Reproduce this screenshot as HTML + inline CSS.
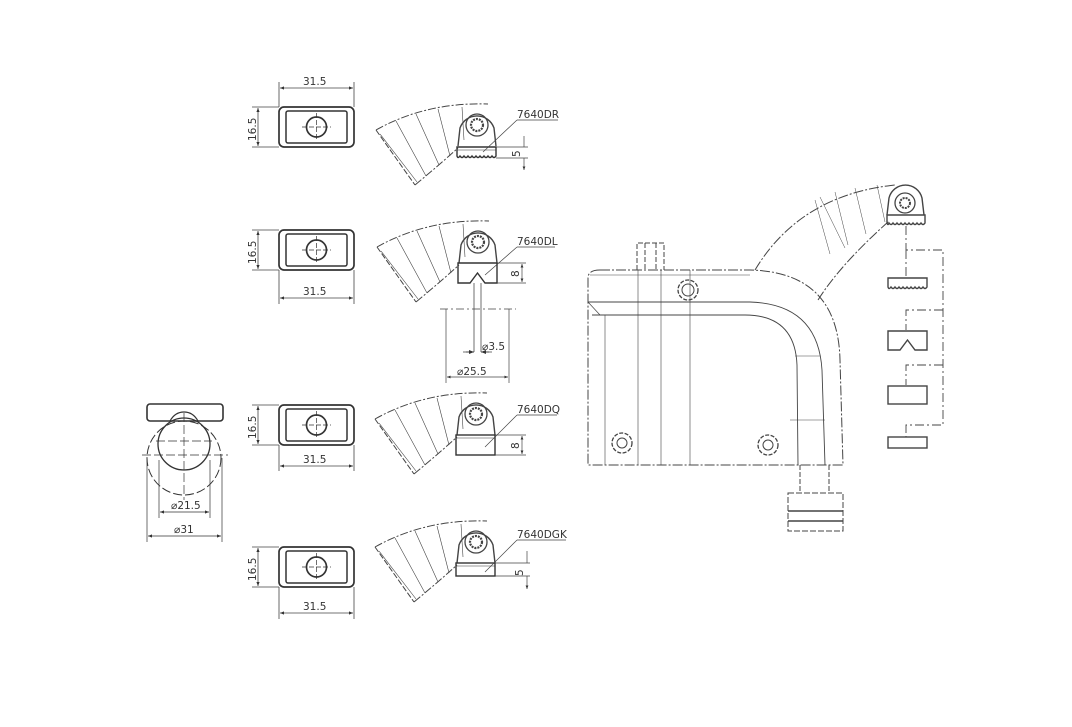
<!DOCTYPE html>
<html><head><meta charset="utf-8"><style>
html,body{margin:0;padding:0;background:#fff;}
svg{display:block;}
text{font-family:"DejaVu Sans","Liberation Sans",sans-serif;font-size:10.5px;fill:#333;}
</style></head><body>
<svg width="1072" height="727" viewBox="0 0 1072 727" xmlns="http://www.w3.org/2000/svg">
<defs>
<marker id="ar" viewBox="0 0 10 10" refX="10" refY="5" markerWidth="7" markerHeight="5" orient="auto-start-reverse"><path d="M0,1 L10,5 L0,9 z" fill="#333"/></marker>
<g id="plan" fill="none" stroke="#333">
  <rect x="279" y="0" width="75" height="40" rx="5" stroke-width="1.7"/>
  <rect x="286" y="4" width="61" height="32" rx="2" stroke-width="1.5"/>
  <circle cx="316.5" cy="20" r="10" stroke-width="1.7"/>
  <path d="M302,20 H331 M316.5,6 V34" stroke-width="0.7" stroke-dasharray="5,2"/>
</g>
<g id="fan" fill="none" stroke="#444" stroke-width="1">
  <path d="M0,0 Q50,-28 112,-26" stroke-dasharray="8,2,2,2"/>
  <path d="M0,0 L39,55" stroke-dasharray="6,2"/>
  <path d="M4,4 L41,52" stroke-width="0.6"/>
  <path d="M39,55 Q62,36 82,18" stroke-dasharray="8,2,2,2"/>
  <path d="M20,-9 L50,46 M40,-16 L63,35 M62,-21 L74,26 M86,-23 L88,10" stroke-width="0.6"/>
  <path d="M82,16 L84,-2 A18,18 0 0 1 118,-2 L120,16" stroke-width="1.4"/>
  <circle cx="101" cy="-5" r="11" stroke-width="1.3"/>
  <circle cx="101" cy="-5" r="6" stroke-width="2.2" stroke-dasharray="2,1"/>
</g>
</defs>

<use href="#plan" transform="translate(0,107)"/>
<use href="#plan" transform="translate(0,230)"/>
<use href="#plan" transform="translate(0,405)"/>
<use href="#plan" transform="translate(0,547)"/>

<g stroke="#444" stroke-width="0.8" fill="none">
  <path d="M279,107 V82 M354,107 V82"/>
  <path d="M280,88 H353" marker-start="url(#ar)" marker-end="url(#ar)"/>
  <path d="M279,107 H252 M279,147 H252"/>
  <path d="M258,108 V146" marker-start="url(#ar)" marker-end="url(#ar)"/>
  <path d="M279,270 V304 M354,270 V304"/>
  <path d="M280,298 H353" marker-start="url(#ar)" marker-end="url(#ar)"/>
  <path d="M279,230 H252 M279,270 H252"/>
  <path d="M258,231 V269" marker-start="url(#ar)" marker-end="url(#ar)"/>
  <path d="M279,445 V471 M354,445 V471"/>
  <path d="M280,466 H353" marker-start="url(#ar)" marker-end="url(#ar)"/>
  <path d="M279,405 H252 M279,445 H252"/>
  <path d="M258,406 V444" marker-start="url(#ar)" marker-end="url(#ar)"/>
  <path d="M279,587 V619 M354,587 V619"/>
  <path d="M280,613 H353" marker-start="url(#ar)" marker-end="url(#ar)"/>
  <path d="M279,547 H252 M279,587 H252"/>
  <path d="M258,548 V586" marker-start="url(#ar)" marker-end="url(#ar)"/>
</g>
<text x="303" y="85">31.5</text>
<text x="303" y="295">31.5</text>
<text x="303" y="463">31.5</text>
<text x="303" y="610">31.5</text>
<text transform="translate(256,141) rotate(-90)">16.5</text>
<text transform="translate(256,264) rotate(-90)">16.5</text>
<text transform="translate(256,439) rotate(-90)">16.5</text>
<text transform="translate(256,581) rotate(-90)">16.5</text>

<use href="#fan" transform="translate(376,130)"/>
<use href="#fan" transform="translate(377,247)"/>
<use href="#fan" transform="translate(375,419)"/>
<use href="#fan" transform="translate(375,547)"/>

<g fill="none" stroke="#333" stroke-width="1.4">
  <path d="M457,147 H496 V156 Q494,159 492,156 Q490,159 488,156 Q486,159 484,156 Q482,159 480,156 Q478,159 476,156 Q474,159 472,156 Q470,159 468,156 Q466,159 464,156 Q462,159 460,156 Q458,159 457,156 Z"/>
  <path d="M457,150 H496" stroke-width="0.6"/>
  <path d="M458,263 H497 V283 L485,283 L477.5,273 L470,283 L458,283 Z"/>
  <path d="M474,283 V352 M481,283 V352" stroke-width="0.7"/>
  <rect x="456" y="435" width="39" height="20"/>
  <path d="M456,438 H495" stroke-width="0.6"/>
  <rect x="456" y="563" width="39" height="13"/>
  <path d="M456,566 H495" stroke-width="0.6"/>
</g>

<text x="517" y="118">7640DR</text>
<text x="517" y="245">7640DL</text>
<text x="517" y="413">7640DQ</text>
<text x="517" y="538">7640DGK</text>
<g stroke="#444" stroke-width="0.7" fill="none">
  <path d="M517,120 H558 M517,120 L483,152"/>
  <path d="M517,247 H555 M517,247 L485,275"/>
  <path d="M517,415 H557 M517,415 L485,447"/>
  <path d="M517,540 H566 M517,540 L485,572"/>
  <path d="M496,147 H528 M496,158 H528"/>
  <path d="M524,136 V147 M524,158 V170" marker-end="url(#ar)"/>
  <path d="M497,263 H526 M497,283 H526"/>
  <path d="M522,264 V282" marker-start="url(#ar)" marker-end="url(#ar)"/>
  <path d="M495,435 H526 M495,455 H526"/>
  <path d="M522,436 V454" marker-start="url(#ar)" marker-end="url(#ar)"/>
  <path d="M495,563 H530 M495,576 H530"/>
  <path d="M527,551 V563 M527,576 V589" marker-end="url(#ar)"/>
  <path d="M440,309 H516" stroke-dasharray="8,3,2,3"/>
  <path d="M446,309 V383 M509,309 V383"/>
  <path d="M463,352 H474 M481,352 H492" />
  <path d="M447,377 H508" marker-start="url(#ar)" marker-end="url(#ar)"/>
</g>
<path d="M466,352 H474" stroke="#444" marker-end="url(#ar)"/>
<path d="M489,352 H481" stroke="#444" marker-end="url(#ar)"/>
<text transform="translate(520,157) rotate(-90)">5</text>
<text transform="translate(519,277) rotate(-90)">8</text>
<text transform="translate(519,449) rotate(-90)">8</text>
<text transform="translate(523,576) rotate(-90)">5</text>
<text x="482" y="350">⌀3.5</text>
<text x="457" y="375">⌀25.5</text>

<g fill="none" stroke="#333">
  <rect x="147" y="404" width="76" height="17" rx="3" stroke-width="1.6"/>
  <path d="M170,421 Q175,412 184,412 Q193,412 198,421" stroke-width="1.2"/>
  <circle cx="184" cy="444" r="26" stroke-width="1.3"/>
  <circle cx="184" cy="458" r="37" stroke-width="1" stroke-dasharray="9,3"/>
  <path d="M142,455 H228 M156,441 H212" stroke-width="0.7" stroke-dasharray="9,3"/>
  <path d="M184,413 V500" stroke-width="0.7" stroke-dasharray="9,3"/>
  <path d="M159,460 V518 M210,460 V518 M147,458 V542 M222,458 V542" stroke-width="0.7"/>
  <path d="M160,512 H209" stroke-width="0.8" marker-start="url(#ar)" marker-end="url(#ar)"/>
  <path d="M148,536 H221" stroke-width="0.8" marker-start="url(#ar)" marker-end="url(#ar)"/>
</g>
<text x="171" y="509">⌀21.5</text>
<text x="174" y="533">⌀31</text>

<g fill="none" stroke="#444" stroke-width="1">
  <path d="M600,270 H750 Q838,272 840,360 L843,465 H588 V278 Q588,270 600,270" stroke-dasharray="10,2,2,2"/>
  <path d="M590,275 H750" stroke-width="0.6"/>
  <path d="M588,302 H750 Q818,304 822,370 L825,465" stroke-width="0.9"/>
  <path d="M592,315 H745 Q795,315 797,365 L798,465" stroke-width="0.9"/>
  <path d="M588,302 L600,315" stroke-width="0.7"/>
  <path d="M605,315 V465 M638,270 V465 M661,270 V465 M690,270 V465" stroke-width="0.6"/>
  <path d="M790,420 H825 M795,356 H820" stroke-width="0.5"/>
  <path d="M637,270 V243 H664 V270 M645,243 V270 M656,243 V270" stroke-dasharray="5,2"/>
  <circle cx="688" cy="290" r="10" stroke-dasharray="4,1.5" stroke-width="1.3"/>
  <circle cx="688" cy="290" r="6"/>
  <circle cx="622" cy="443" r="10" stroke-dasharray="4,1.5" stroke-width="1.3"/>
  <circle cx="622" cy="443" r="5"/>
  <circle cx="768" cy="445" r="10" stroke-dasharray="4,1.5" stroke-width="1.3"/>
  <circle cx="768" cy="445" r="5"/>
  <path d="M800,465 V493 M829,465 V493" stroke-dasharray="5,2"/>
  <rect x="788" y="493" width="55" height="38" stroke-dasharray="6,2"/>
  <path d="M788,511 H843 M788,521 H843" stroke-width="1.4"/>
  <path d="M755,270 Q800,195 895,185" stroke-dasharray="10,2,2,2"/>
  <path d="M818,300 Q840,265 888,222" stroke-dasharray="10,2,2,2"/>
  <path d="M815,200 L830,254 M835,192 L848,245 M855,188 L866,234 M877,185 L885,222 M820,197 L845,248" stroke-width="0.5"/>
  <path d="M887,215 L889,198 A17,17 0 0 1 922,198 L924,215" stroke-width="1.4"/>
  <circle cx="905" cy="203" r="10" stroke-width="1.3"/>
  <circle cx="905" cy="203" r="5" stroke-width="2" stroke-dasharray="2,1"/>
  <path d="M887,215 H925 V223 Q923,226 921,223 Q919,226 917,223 Q915,226 913,223 Q911,226 909,223 Q907,226 905,223 Q903,226 901,223 Q899,226 897,223 Q895,226 893,223 Q891,226 889,223 Q888,226 887,223 Z" stroke-width="1.4"/>
  <path d="M906,226 V250 H943 V425 H906 V437 M943,310 H906 V330 M943,365 H906 V385 M906,250 V278" stroke-dasharray="9,3,2,3" stroke-width="0.9"/>
  <path d="M888,278 H927 V287 Q925,290 923,287 Q921,290 919,287 Q917,290 915,287 Q913,290 911,287 Q909,290 907,287 Q905,290 903,287 Q901,290 899,287 Q897,290 895,287 Q893,290 891,287 Q889,290 888,287 Z" stroke-width="1.4"/>
  <path d="M888,331 H927 V350 L915,350 L907.5,340 L900,350 L888,350 Z" stroke-width="1.4"/>
  <rect x="888" y="386" width="39" height="18" stroke-width="1.4"/>
  <rect x="888" y="437" width="39" height="11" stroke-width="1.4"/>
</g>
</svg>
</body></html>
